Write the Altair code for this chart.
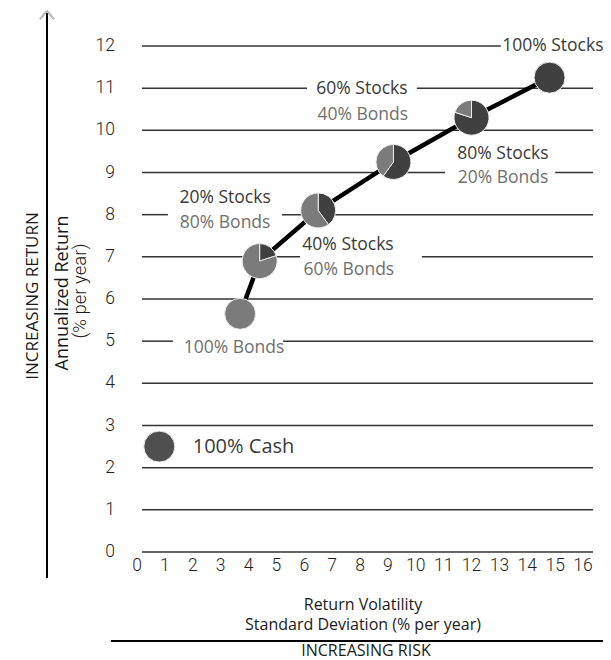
import altair as alt
import pandas as pd

# ---- data ----
portfolios = ["100% Cash", "100% Bonds", "20/80", "40/60", "60/40", "80/20", "100% Stocks"]
volatility = [0.8, 3.7, 4.4, 6.5, 9.2, 12.0, 14.8]
annual_return = [2.5, 5.65, 6.9, 8.1, 9.25, 10.3, 11.25]
stock_share = [0.0, 0.0, 0.2, 0.4, 0.6, 0.8, 1.0]
bond_share = [0.0, 1.0, 0.8, 0.6, 0.4, 0.2, 0.0]
cash_share = [1.0, 0.0, 0.0, 0.0, 0.0, 0.0, 0.0]

y_ticks = list(range(0, 13))
x_ticks = list(range(0, 17))

# annotation texts
label_text = ["100% Stocks", "60% Stocks", "40% Bonds", "80% Stocks", "20% Bonds",
              "20% Stocks", "80% Bonds", "40% Stocks", "60% Bonds", "100% Bonds", "100% Cash"]
label_x = [13.1, 8.07, 8.1, 13.13, 13.13, 3.16, 3.16, 7.57, 7.6, 3.48, 2.0]
label_y = [12.0, 10.97, 10.36, 9.45, 8.86, 8.39, 7.8, 7.27, 6.68, 4.83, 2.5]
label_kind = ["stock", "stock", "bond", "stock", "bond", "stock", "bond", "stock", "bond", "bond", "cash"]

# gaps in grid lines where labels sit: (y level, gap start, gap end)
gap_y = [12, 11, 9, 8, 7, 5]
gap_start = [13.05, 6.1, 11.05, 1.11, 5.85, 1.29]
gap_end = [16.36, 10.04, 15.0, 5.2, 10.22, 5.24]
grid_x0, grid_x1 = 0.18, 16.36

# ---- tables ----
pts = pd.DataFrame({"name": portfolios, "vol": volatility, "ret": annual_return})

arc_rows = []
for n, v, r, s, b, c in zip(portfolios, volatility, annual_return, stock_share, bond_share, cash_share):
    t = 0.0
    for asset, frac in (("Stocks", s), ("Bonds", b), ("Cash", c)):
        if frac > 0:
            arc_rows.append({"name": n, "vol": v, "ret": r, "asset": asset,
                             "t0": t, "t1": t + frac, "full": frac >= 0.999})
            t += frac
arcs = pd.DataFrame(arc_rows)

seg_rows = []
for yv in y_ticks:
    if yv in gap_y:
        i = gap_y.index(yv)
        seg_rows.append({"y": yv, "x0": grid_x0, "x1": gap_start[i]})
        if gap_end[i] < grid_x1:
            seg_rows.append({"y": yv, "x0": gap_end[i], "x1": grid_x1})
    else:
        seg_rows.append({"y": yv, "x0": grid_x0, "x1": grid_x1})
segs = pd.DataFrame(seg_rows)

labels = pd.DataFrame({"text": label_text, "x": label_x, "y": label_y, "kind": label_kind})
xt = pd.DataFrame({"v": x_ticks, "s": [str(v) for v in x_ticks]})
yt = pd.DataFrame({"v": y_ticks, "s": [str(v) for v in y_ticks]})

W, H = 446, 506
xs = alt.Scale(domain=[0, 16], nice=False, zero=False)
ys = alt.Scale(domain=[0, 12], nice=False, zero=False)


def px(field):
    return alt.X(field, scale=xs, axis=None)


def py(field):
    return alt.Y(field, scale=ys, axis=None)


# tick labels drawn through the scales
tick_style = dict(font="Roboto", fontWeight=300, fontSize=17.5, color="#1f1f1f")
x_labels = alt.Chart(xt).mark_text(align="center", baseline="middle", **tick_style).encode(
    x=px("v:Q"), y=alt.value(H + 14), text="s:N")
y_labels = alt.Chart(yt).mark_text(align="right", baseline="middle", **tick_style).encode(
    x=alt.value(-22), y=py("v:Q"), text="s:N")

grid = alt.Chart(segs).mark_rule(color="#333333", strokeWidth=1.5).encode(
    x=px("x0:Q"), x2="x1:Q", y=py("y:Q"))

line = alt.Chart(pts[pts["name"] != "100% Cash"]).mark_line(color="#000000", strokeWidth=4.5).encode(
    x=px("vol:Q"), y=py("ret:Q"), order="vol:Q")

color_enc = alt.Color("asset:N", scale=alt.Scale(domain=["Stocks", "Bonds", "Cash"],
                                                 range=["#404040", "#7b7b7b", "#4f4f4f"]), legend=None)
theta_enc = alt.Theta("t0:Q", scale=alt.Scale(domain=[0, 1], range=[0, 6.283185307]))

pies = alt.Chart(arcs[~arcs["full"]]).mark_arc(radius=17.5, stroke="#eeeeee", strokeWidth=1).encode(
    x=px("vol:Q"), y=py("ret:Q"), theta=theta_enc, theta2="t1:Q", color=color_enc)
full = alt.Chart(arcs[arcs["full"]]).mark_point(filled=True, opacity=1, size=962,
                                                 stroke="#eeeeee", strokeWidth=1, shape="circle").encode(
    x=px("vol:Q"), y=py("ret:Q"), fill=color_enc)

txt_common = dict(font="Open Sans", baseline="middle")
lab_top = alt.Chart(labels[labels["text"] == "100% Stocks"]).mark_text(
    fontSize=17.5, color="#3a3a3a", align="left", **txt_common).encode(
    x=px("x:Q"), y=py("y:Q"), text="text:N")
lab_stock = alt.Chart(labels[(labels["kind"] == "stock") & (labels["text"] != "100% Stocks")]).mark_text(
    fontSize=17.5, color="#3a3a3a", align="center", **txt_common).encode(
    x=px("x:Q"), y=py("y:Q"), text="text:N")
lab_bond = alt.Chart(labels[labels["kind"] == "bond"]).mark_text(
    fontSize=17.5, color="#707070", align="center", **txt_common).encode(
    x=px("x:Q"), y=py("y:Q"), text="text:N")
lab_cash = alt.Chart(labels[labels["kind"] == "cash"]).mark_text(
    fontSize=20, color="#3a3a3a", align="left", **txt_common).encode(
    x=px("x:Q"), y=py("y:Q"), text="text:N")

# frame annotations (pixel positions relative to plot origin)
vline = alt.Chart(pts).mark_rule(color="#000000", strokeWidth=2).encode(
    x=alt.value(-90), y=alt.value(-34), y2=alt.value(532))
arrow_l = alt.Chart(pts).mark_rule(color="#bdbdbd", strokeWidth=1.5).encode(
    x=alt.value(-97), x2=alt.value(-90), y=alt.value(-27), y2=alt.value(-35))
arrow_r = alt.Chart(pts).mark_rule(color="#bdbdbd", strokeWidth=1.5).encode(
    x=alt.value(-83), x2=alt.value(-90), y=alt.value(-27), y2=alt.value(-35))
hline = alt.Chart(pts).mark_rule(color="#000000", strokeWidth=2).encode(
    x=alt.value(-26), x2=alt.value(480), y=alt.value(595))


def ann(text, x, y, size, angle=0, weight="normal", font="Open Sans", color="#1a1a1a"):
    kw = dict(text=text, fontSize=size, font=font, fontWeight=weight, color=color,
              align="center", baseline="middle")
    if angle:
        kw["angle"] = angle
    return alt.Chart(pd.DataFrame({"a": [0]})).mark_text(**kw).encode(
        x=alt.value(x), y=alt.value(y))


t1 = ann("INCREASING RETURN", -104, 250, 17, angle=270)
t2 = ann("Annualized Return", -74, 247, 18, angle=270)
t3 = ann("(% per year)", -57, 245, 18.5, angle=270, weight=300, font="Roboto")
t4 = ann("Return Volatility", 226, 559, 16)
t5 = ann("Standard Deviation (% per year)", 226, 579, 16)
t6 = ann("INCREASING RISK", 229, 605, 16)

chart = alt.layer(
    grid, line, pies, full, x_labels, y_labels, lab_top, lab_stock, lab_bond, lab_cash,
    vline, arrow_l, arrow_r, hline, t1, t2, t3, t4, t5, t6
).properties(
    width=W, height=H,
    autosize=alt.AutoSizeParams(type="none"),
    padding={"left": 129, "top": 38, "right": 20, "bottom": 108},
).configure_view(stroke=None)

chart.save("out.html", embed_options={"renderer": "svg", "actions": False})
